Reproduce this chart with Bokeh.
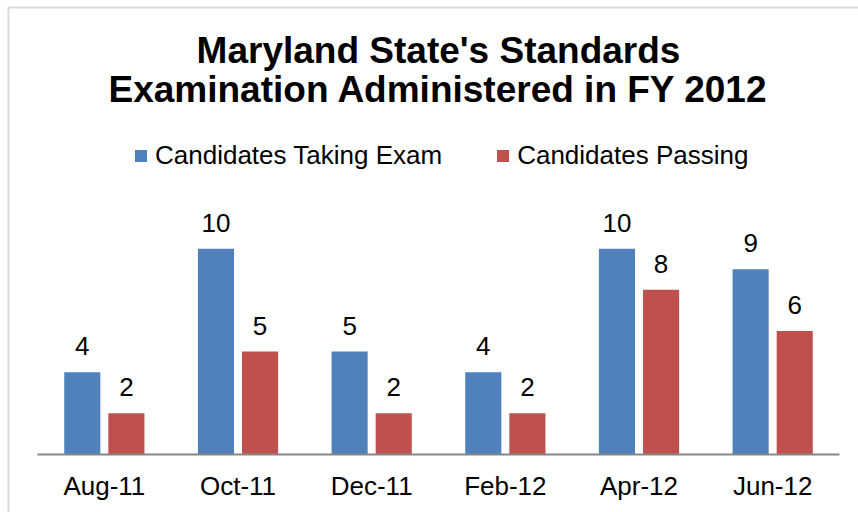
from bokeh.plotting import figure
from bokeh.models import (ColumnDataSource, Label, LabelSet, Legend, LegendItem,
                          BoxAnnotation, Range1d, FixedTicker, LinearAxis)
from bokeh.core.properties import value
from bokeh.embed import file_html
from bokeh.resources import INLINE

months = ["Aug-11", "Oct-11", "Dec-11", "Feb-12", "Apr-12", "Jun-12"]
taking = [4, 10, 5, 4, 10, 9]
passing = [2, 5, 2, 2, 8, 6]
title_lines = ["Maryland State's Standards", "Examination Administered in FY 2012"]
series_names = ["Candidates Taking Exam", "Candidates Passing"]

BLUE = "#4F81BD"
RED = "#C0504D"
FONT = "Liberation Sans"
OFF = 0.165
BW = 0.27

pos = list(range(len(months)))
src = ColumnDataSource(dict(
    xb=[i - OFF for i in pos], xr=[i + OFF for i in pos],
    taking=taking, passing=passing,
    taking_s=[str(v) for v in taking], passing_s=[str(v) for v in passing]))

W, H = 858, 512
p = figure(x_range=Range1d(-0.7768, 5.642), y_range=Range1d(-2.818, 22.057),
           width=W, height=H, output_backend="svg", toolbar_location=None,
           x_axis_location=None, y_axis_location=None,
           min_border=0, min_border_left=0, min_border_right=0,
           min_border_top=0, min_border_bottom=0)
p.outline_line_color = None
p.xgrid.visible = False
p.ygrid.visible = False

r1 = p.vbar(x="xb", top="taking", width=BW, source=src, fill_color=BLUE, line_color=None)
r2 = p.vbar(x="xr", top="passing", width=BW, source=src, fill_color=RED, line_color=None)

for xc, col, top in (("xb", "taking_s", "taking"), ("xr", "passing_s", "passing")):
    p.add_layout(LabelSet(x=xc, y=top, text=col, source=src,
                          text_align="center", text_baseline="alphabetic", y_offset=17,
                          text_font=value(FONT), text_font_size=value("26px"),
                          text_color="black"))

ax = LinearAxis(fixed_location=0, ticker=FixedTicker(ticks=pos), bounds=(-0.5, 5.5),
                major_label_overrides={i: m for i, m in zip(pos, months)})
ax.axis_line_color = "#868686"
ax.axis_line_width = 2
ax.major_tick_line_color = None
ax.minor_tick_line_color = None
ax.major_label_standoff = 11
ax.major_label_text_font = FONT
ax.major_label_text_font_size = "26px"
ax.major_label_text_color = "black"
p.add_layout(ax, "below")

# titles
for txt, ys in ((title_lines[0], H - 50), (title_lines[1], H - 89)):
    p.add_layout(Label(x=438, y=ys, x_units="screen", y_units="screen", text=txt,
                       text_align="center", text_baseline="alphabetic",
                       text_font=FONT, text_font_size="37px", text_font_style="bold",
                       text_color="black"))

legend = Legend(items=[LegendItem(label=series_names[0], renderers=[r1]),
                       LegendItem(label=series_names[1], renderers=[r2])],
                location=(133, H - 171), orientation="horizontal",
                glyph_width=15, glyph_height=15, label_standoff=7, spacing=53,
                padding=0, margin=0, border_line_color=None,
                background_fill_alpha=0,
                label_text_font=FONT, label_text_font_size="26px",
                label_text_color="black")
p.add_layout(legend, "center")

# chart border
p.add_layout(BoxAnnotation(left=8, right=W + 50, top=H - 7, bottom=-50,
                           left_units="screen", right_units="screen",
                           top_units="screen", bottom_units="screen",
                           fill_alpha=0, line_color="#868686", line_width=2))

open("out.html", "w").write(file_html(p, INLINE))
